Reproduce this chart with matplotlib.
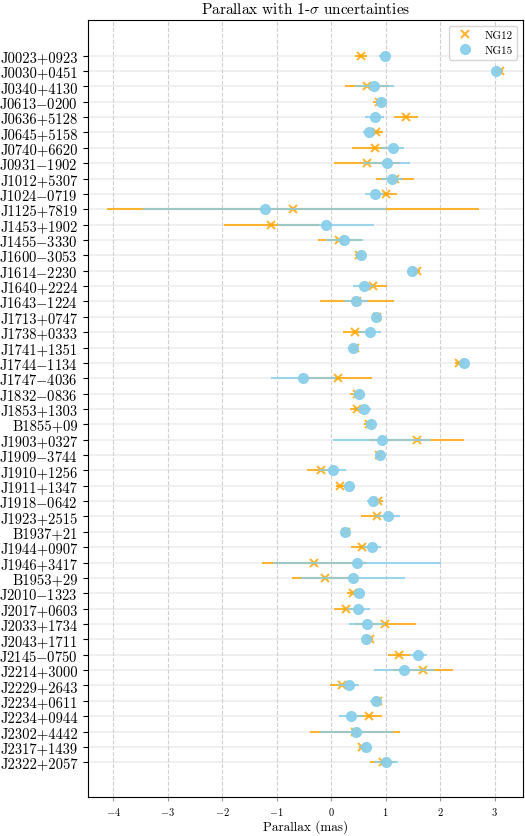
"""
Parallax comparison between the NANOGrav 12.5-yr (NG12) and 15-yr (NG15)
timing solutions, one row per pulsar with 1-sigma error bars.
"""

import matplotlib
matplotlib.use("Agg")
import matplotlib.pyplot as plt
import numpy as np

PULSARS = [
    "J0023+0923", "J0030+0451", "J0340+4130", "J0613-0200", "J0636+5128",
    "J0645+5158", "J0740+6620", "J0931-1902", "J1012+5307", "J1024-0719",
    "J1125+7819", "J1453+1902", "J1455-3330", "J1600-3053", "J1614-2230",
    "J1640+2224", "J1643-1224", "J1713+0747", "J1738+0333", "J1741+1351",
    "J1744-1134", "J1747-4036", "J1832-0836", "J1853+1303", "B1855+09",
    "J1903+0327", "J1909-3744", "J1910+1256", "J1911+1347", "J1918-0642",
    "J1923+2515", "B1937+21", "J1944+0907", "J1946+3417", "B1953+29",
    "J2010-1323", "J2017+0603", "J2033+1734", "J2043+1711", "J2145-0750",
    "J2214+3000", "J2229+2643", "J2234+0611", "J2234+0944", "J2302+4442",
    "J2317+1439", "J2322+2057",
]

# parallax [mas] and 1-sigma uncertainty, NG12
NG12_PX = [
    0.55, 3.10, 0.66, 0.88, 1.37, 0.83, 0.81, 0.66, 1.17, 1.00,
    -0.70, -1.10, 0.15, 0.52, 1.57, 0.77, 0.47, 0.85, 0.43, 0.44,
    2.34, 0.12, 0.47, 0.47, 0.70, 1.57, 0.87, -0.18, 0.17, 0.86,
    0.84, 0.28, 0.56, -0.31, -0.12, 0.40, 0.28, 0.99, 0.72, 1.24,
    1.69, 0.20, 0.86, 0.69, 0.44, 0.57, 0.95,
]
NG12_ERR = [
    0.11, 0.05, 0.40, 0.11, 0.22, 0.12, 0.43, 0.60, 0.35, 0.21,
    3.42, 0.87, 0.40, 0.08, 0.06, 0.26, 0.68, 0.03, 0.22, 0.07,
    0.06, 0.63, 0.12, 0.13, 0.09, 0.87, 0.02, 0.26, 0.08, 0.10,
    0.29, 0.06, 0.20, 0.95, 0.59, 0.11, 0.22, 0.56, 0.05, 0.20,
    0.55, 0.23, 0.07, 0.24, 0.83, 0.05, 0.23,
]

# parallax [mas] and 1-sigma uncertainty, NG15
NG15_PX = [
    0.98, 3.03, 0.79, 0.91, 0.80, 0.69, 1.13, 1.02, 1.12, 0.80,
    -1.22, -0.10, 0.24, 0.55, 1.48, 0.60, 0.45, 0.83, 0.72, 0.41,
    2.43, -0.51, 0.51, 0.61, 0.74, 0.93, 0.89, 0.03, 0.32, 0.76,
    1.04, 0.26, 0.75, 0.47, 0.40, 0.52, 0.50, 0.66, 0.64, 1.60,
    1.34, 0.32, 0.82, 0.37, 0.46, 0.64, 1.01,
]
NG15_ERR = [
    0.10, 0.04, 0.36, 0.07, 0.17, 0.11, 0.21, 0.43, 0.20, 0.17,
    2.23, 0.88, 0.34, 0.05, 0.08, 0.19, 0.22, 0.02, 0.20, 0.09,
    0.03, 0.60, 0.11, 0.13, 0.10, 0.90, 0.01, 0.25, 0.08, 0.10,
    0.23, 0.04, 0.17, 1.54, 0.95, 0.11, 0.21, 0.33, 0.04, 0.16,
    0.55, 0.20, 0.10, 0.22, 0.67, 0.11, 0.22,
]


def _tex_name(name):
    # cmr10 has a short hyphen only, so draw the minus through mathtext
    return name.replace("-", "$-$")


def main():
    plt.rcParams.update({
        "font.family": "serif",
        "font.serif": ["cmr10", "DejaVu Serif"],
        "mathtext.fontset": "cm",
        "axes.formatter.use_mathtext": True,
    })

    n = len(PULSARS)
    y = np.arange(n)

    fig = plt.figure(figsize=(5.25, 8.37), dpi=100)
    ax = fig.add_axes([87.5 / 525, 39 / 837, 435.5 / 525, 777 / 837])

    ax.set_axisbelow(True)
    for yi in y:
        ax.axhline(yi, color="#eeeeee", lw=1.2, zorder=0)
    ax.grid(axis="x", ls="--", color="#d0d0d0", lw=0.8)

    ax.errorbar(NG12_PX, y, xerr=NG12_ERR, fmt="none", ecolor="orange",
                elinewidth=1.5, alpha=0.8, zorder=2)
    ax.plot(NG12_PX, y, ls="none", marker="x", color="orange", ms=6, mew=1.5,
            alpha=0.8, label="NG12", zorder=3)
    ax.errorbar(NG15_PX, y, xerr=NG15_ERR, fmt="none", ecolor="skyblue",
                elinewidth=1.5, alpha=0.8, zorder=4)
    ax.plot(NG15_PX, y, ls="none", marker="o", color="skyblue", ms=7,
            alpha=0.9, label="NG15", zorder=5)

    ax.set_yticks(y)
    ax.set_yticklabels([_tex_name(p) for p in PULSARS], fontsize=10.5)
    ax.set_ylim(n - 1 + 2.26, -2.32)
    ax.set_xlim(-4.47, 3.52)
    ax.set_xticks(np.arange(-4, 4))
    ax.tick_params(axis="x", labelsize=7.5, pad=2.5, length=3, color="#999999")

    ax.set_xlabel("Parallax (mas)", fontsize=9.5, labelpad=1.5)
    ax.set_title(r"Parallax with 1-$\sigma$ uncertainties", fontsize=11, pad=5)
    ax.legend(loc="upper right", fontsize=8)

    fig.savefig("out.png", dpi=100)
    plt.close(fig)


if __name__ == "__main__":
    main()
